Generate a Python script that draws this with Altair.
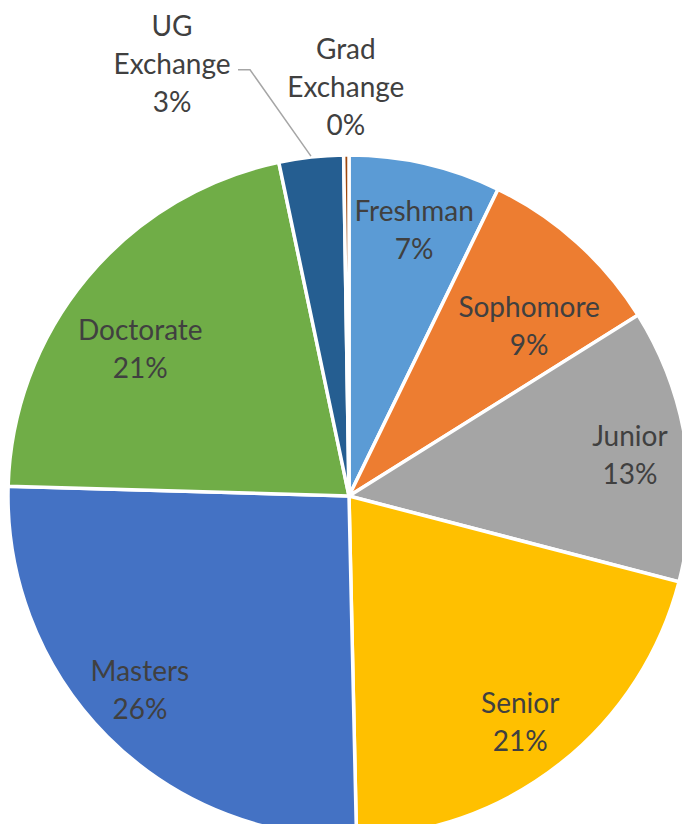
import math
import altair as alt
import pandas as pd

# ---- data ----
categories = ["Freshman", "Sophomore", "Junior", "Senior", "Masters",
              "Doctorate", "UG Exchange", "Grad Exchange"]
display_names = ["Freshman", "Sophomore", "Junior", "Senior", "Masters",
                 "Doctorate", "UG\nExchange", "Grad\nExchange"]
values = [7.2, 8.9, 12.95, 20.6, 25.8, 21.25, 3.05, 0.25]
colors = ["#5B9BD5", "#ED7D31", "#A5A5A5", "#FFC000", "#4472C4",
          "#70AD47", "#255E91", "#9E480E"]

# ---- layout (styling only) ----
W, H = 674, 816
CX, CY = 341, 488
R = 341
FONT = "Lato"
FS = 28
LH = 38
TXT = "#404040"
# label radius and pixel nudge per label (mimics Excel "best fit" placement)
LABEL_RADIUS = {"UG Exchange": 440, "Grad Exchange": 408}
R_IN = 268
LABEL_NUDGE = {
    "Freshman": (5, -3), "Sophomore": (1, 31), "Junior": (16, 2),
    "Senior": (5, 18), "Masters": (-19, 7), "Doctorate": (-3, 27),
    "UG Exchange": (-128, 7), "Grad Exchange": (0, 1),
}

total = sum(values)
labels = [f"{n}\n{round(v / total * 100)}%" for n, v in zip(display_names, values)]
df = pd.DataFrame({
    "category": categories,
    "value": values,
    "idx": list(range(len(categories))),
    "label": labels,
})

theta = alt.Theta("value:Q", stack=True)
order = alt.Order("idx:Q")
base = alt.Chart(df)

arcs = base.mark_arc(outerRadius=R, stroke="white", strokeWidth=3.5).encode(
    theta=theta,
    order=order,
    color=alt.Color("category:N", scale=alt.Scale(domain=categories, range=colors), legend=None),
    x=alt.value(CX), y=alt.value(CY),
)

layers = [arcs]
for cat, lab in zip(categories, labels):
    n_lines = lab.count("\n") + 1
    ndx, ndy = LABEL_NUDGE[cat]
    layers.append(
        base.mark_text(
            radius=LABEL_RADIUS.get(cat, R_IN), font=FONT, fontSize=FS, color=TXT,
            lineBreak="\n", lineHeight=LH, align="center", baseline="middle",
            dx=ndx, dy=ndy - (n_lines - 1) * LH / 2,
        ).encode(
            theta=theta, order=order,
            text=alt.condition(alt.datum.category == cat, alt.Text("label:N"), alt.value("")),
            x=alt.value(CX), y=alt.value(CY),
        )
    )

# leader line for the UG Exchange label, derived from the slice mid-angle
i_ug = categories.index("UG Exchange")
mid = (sum(values[:i_ug]) + values[i_ug] / 2) / total * 2 * math.pi
end_x = CX + (R + 1) * math.sin(mid)
end_y = CY - (R + 1) * math.cos(mid)
r_ug = LABEL_RADIUS["UG Exchange"]
lab_x = CX + r_ug * math.sin(mid) + LABEL_NUDGE["UG Exchange"][0]
lab_y = CY - r_ug * math.cos(mid) + LABEL_NUDGE["UG Exchange"][1]
leader_df = pd.DataFrame({
    "px": [lab_x + 66, lab_x + 78, end_x],
    "py": [lab_y + 4, lab_y + 4, end_y],
    "k": [0, 1, 2],
})
leader = alt.Chart(leader_df).mark_line(color="#A6A6A6", strokeWidth=1.5).encode(
    x=alt.X("px:Q", scale=None, axis=None),
    y=alt.Y("py:Q", scale=None, axis=None),
    order="k:Q",
)
layers.append(leader)

chart = alt.layer(*layers).properties(
    width=W, height=H, padding=0,
    autosize=alt.AutoSizeParams(type="none"),
).configure_view(stroke=None)

chart.save("out.html", embed_options={"renderer": "svg", "actions": False})
